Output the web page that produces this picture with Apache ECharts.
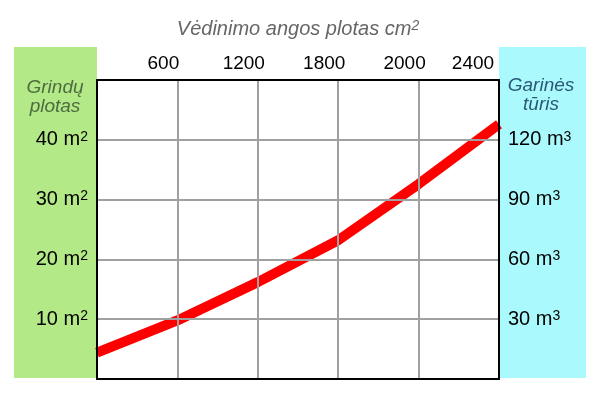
<!DOCTYPE html>
<html>
<head>
<meta charset="utf-8">
<script src="https://cdn.jsdelivr.net/npm/echarts@6/dist/echarts.min.js"></script>
<style>
  html, body { margin: 0; padding: 0; background: #fff; }
  #chart { width: 600px; height: 400px; }
</style>
</head>
<body>
<div id="chart"></div>
<script>
// ventilation opening area (top axis), one label per grid column
const ventTicks = ["", "600", "1200", "1800", "2000", "2400"];
// floor area (left axis, m2) and steam room volume (right axis, m3)
const areaTicks = [10, 20, 30, 40];
const volumeTicks = [30, 60, 90, 120];
// red curve: floor area (m2) read at each grid column
const areaValues = [4.4, 9.8, 16.2, 23.2, 32.6, 42.6];

const FONT = "Liberation Sans, Arial, sans-serif";

function init(){
    const element = document.getElementById("chart");
    const instance = echarts.init(element);

    const supStyle = {
        n: { fontSize: 20, fontFamily: FONT, color: "#000" },
        s: { fontSize: 14, fontFamily: FONT, color: "#000", verticalAlign: "top" }
    };
    // black frame line, kept at the grid edge
    const frame = { show: true, onZero: false, lineStyle: { color: "#000", width: 2 } };

    let option = {
        animation: false,
        backgroundColor: "#fff",
        graphic: [
            // coloured side panels behind the plot
            { type: "rect", z: -10, shape: { x: 14, y: 47, width: 83, height: 331 }, style: { fill: "#b3e986" } },
            { type: "rect", z: -10, shape: { x: 499, y: 47, width: 87, height: 331 }, style: { fill: "#aafafd" } },
            { type: "text", z: -5, x: 55, y: 97, style: {
                text: "Grindų\nplotas", align: "center", verticalAlign: "middle", lineHeight: 19,
                font: "italic 19px " + FONT, fill: "#4e6c42" } },
            { type: "text", z: -5, x: 541, y: 95, style: {
                text: "Garinės\ntūris", align: "center", verticalAlign: "middle", lineHeight: 19,
                font: "italic 19px " + FONT, fill: "#2b5876" } }
        ],
        grid: {
            left: 97,
            right: 101,
            top: 80,
            bottom: 21,
            containLabel: false
        },
        xAxis: [
            {
                type: "value",
                position: "top",
                min: 0,
                max: 5,
                interval: 1,
                z: 3,
                name: "{t|Vėdinimo angos plotas cm}{s|2}",
                nameLocation: "middle",
                nameGap: 41,
                nameTextStyle: {
                    rich: {
                        t: { fontSize: 20, fontStyle: "italic", fontFamily: FONT, color: "#666" },
                        s: { fontSize: 14, fontStyle: "italic", fontFamily: FONT, color: "#666", verticalAlign: "top" }
                    }
                },
                axisLine: frame,
                axisTick: { show: false },
                splitLine: { show: true, showMinLine: false, showMaxLine: false,
                    lineStyle: { color: "#a0a0a0", width: 2 } },
                axisLabel: {
                    margin: 7,
                    showMinLabel: false,
                    formatter: function(v){
                        const t = ventTicks[Math.round(v)];
                        if(!t) return "";
                        // labels sit a bit left of their grid line
                        return Math.round(v) === 5 ? "{e|" + t + "}" : "{a|" + t + "}";
                    },
                    rich: {
                        a: { fontSize: 19, fontFamily: FONT, color: "#000", padding: [0, 28, 0, 0] },
                        e: { fontSize: 19, fontFamily: FONT, color: "#000", padding: [0, 52, 0, 0] }
                    }
                }
            },
            {
                type: "value",
                position: "bottom",
                min: 0,
                max: 5,
                z: 3,
                axisLine: frame,
                axisTick: { show: false },
                axisLabel: { show: false },
                splitLine: { show: false }
            }
        ],
        yAxis: [
            {
                type: "value",
                position: "left",
                min: 0,
                max: 50,
                interval: 10,
                z: 3,
                axisLine: frame,
                axisTick: { show: false },
                splitLine: { show: true, showMinLine: false, showMaxLine: false,
                    lineStyle: { color: "#a0a0a0", width: 2 } },
                axisLabel: {
                    margin: 9,
                    formatter: function(v){
                        return areaTicks.indexOf(v) >= 0 ? "{n|" + v + " m}{s|2}" : "";
                    },
                    rich: supStyle
                }
            },
            {
                type: "value",
                position: "right",
                min: 0,
                max: 150,
                interval: 30,
                z: 3,
                axisLine: frame,
                axisTick: { show: false },
                splitLine: { show: false },
                axisLabel: {
                    margin: 9,
                    formatter: function(v){
                        return volumeTicks.indexOf(v) >= 0 ? "{n|" + v + " m}{s|3}" : "";
                    },
                    rich: supStyle
                }
            }
        ],
        series: [
            {
                type: "line",
                xAxisIndex: 0,
                yAxisIndex: 0,
                data: areaValues.map(function(v, i){ return [i, v]; }),
                showSymbol: false,
                lineStyle: { color: "#ff0000", width: 10, join: "round" },
                z: 2
            }
        ]
    };

    instance && instance.setOption(option);
}
init();
</script>
</body>
</html>
